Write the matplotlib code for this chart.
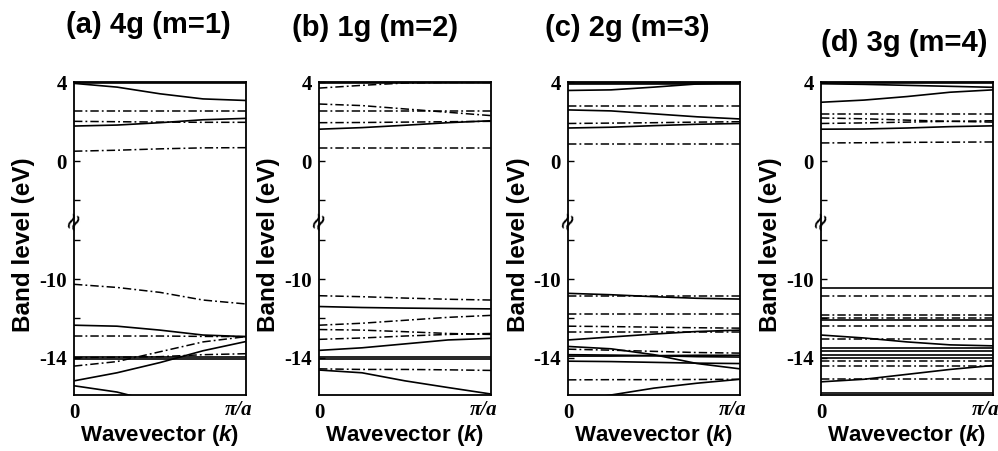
import numpy as np
import matplotlib
matplotlib.use("Agg")
import matplotlib.pyplot as plt

plt.rcParams['mathtext.fontset'] = 'custom'
plt.rcParams['mathtext.it'] = 'Liberation Sans:italic:bold'
plt.rcParams['mathtext.rm'] = 'Liberation Sans:bold'

# k points as fraction of pi/a
k = [0.0, 0.25, 0.5, 0.75, 1.0]

titles = ["(a) 4g (m=1)", "(b) 1g (m=2)", "(c) 2g (m=3)", "(d) 3g (m=4)"]

# band energies (eV) at the k points, solid and dash-dot bands
a_solid = [
    [3.98, 3.98, 3.98, 3.98, 3.98],
    [3.95, 3.76, 3.42, 3.16, 3.08],
    [1.78, 1.83, 1.95, 2.1, 2.17],
    [-12.35, -12.4, -12.6, -12.85, -12.93],
    [-13.97, -13.97, -13.97, -13.97, -13.97],
    [-14.05, -14.05, -14.05, -14.05, -14.05],
    [-15.18, -14.77, -14.25, -13.65, -13.18],
    [-15.43, -15.75, -16.3, -16.8, -17.0],
]
a_dashed = [
    [2.55, 2.55, 2.55, 2.55, 2.55],
    [2.02, 2.0, 1.98, 1.97, 1.97],
    [0.5, 0.55, 0.62, 0.67, 0.68],
    [-10.27, -10.43, -10.68, -11.07, -11.27],
    [-12.9, -12.9, -12.9, -12.92, -12.93],
    [-14.43, -14.2, -13.7, -13.2, -12.93],
    [-14.0, -13.98, -13.95, -13.85, -13.8],
]

b_solid = [
    [3.98, 3.98, 3.98, 3.98, 3.98],
    [1.62, 1.7, 1.82, 1.95, 2.05],
    [-11.4, -11.45, -11.48, -11.5, -11.52],
    [-13.63, -13.5, -13.3, -13.1, -13.02],
    [-13.95, -13.95, -13.95, -13.95, -13.95],
    [-14.05, -14.05, -14.05, -14.05, -14.05],
    [-14.63, -14.77, -15.18, -15.52, -15.85],
]
b_dashed = [
    [3.71, 3.85, 3.97, 4.0, 4.0],
    [2.9, 2.82, 2.65, 2.48, 2.31],
    [2.56, 2.56, 2.56, 2.56, 2.56],
    [1.95, 1.96, 1.98, 2.0, 2.02],
    [0.68, 0.68, 0.68, 0.68, 0.68],
    [-10.85, -10.9, -10.97, -11.03, -11.07],
    [-12.35, -12.25, -12.1, -11.95, -11.85],
    [-12.57, -12.6, -12.68, -12.77, -12.82],
    [-13.07, -13.0, -12.9, -12.82, -12.77],
    [-14.57, -14.6, -14.6, -14.62, -14.65],
]

c_solid = [
    [3.98, 3.98, 3.98, 3.98, 3.98],
    [3.93, 3.93, 3.93, 3.93, 3.93],
    [3.59, 3.62, 3.76, 3.92, 4.0],
    [2.6, 2.55, 2.4, 2.25, 2.14],
    [1.68, 1.72, 1.8, 1.87, 1.91],
    [-10.73, -10.8, -10.9, -10.98, -11.02],
    [-13.1, -12.95, -12.8, -12.67, -12.6],
    [-13.43, -13.55, -13.85, -14.3, -14.57],
    [-13.85, -13.87, -13.9, -13.95, -13.97],
    [-13.92, -13.92, -13.9, -13.88, -13.88],
    [-14.18, -14.2, -14.24, -14.28, -14.3],
    [-16.2, -15.9, -15.55, -15.3, -15.1],
]
c_dashed = [
    [2.8, 2.8, 2.8, 2.8, 2.8],
    [1.91, 1.93, 1.95, 1.98, 2.0],
    [0.85, 0.85, 0.85, 0.85, 0.85],
    [-10.85, -10.85, -10.85, -10.85, -10.85],
    [-11.8, -11.8, -11.8, -11.8, -11.8],
    [-12.4, -12.42, -12.45, -12.48, -12.5],
    [-12.68, -12.68, -12.68, -12.68, -12.68],
    [-13.57, -13.62, -13.68, -13.74, -13.77],
    [-15.13, -15.12, -15.12, -15.11, -15.1],
]

d_solid = [
    [3.98, 3.98, 3.98, 3.98, 3.98],
    [3.93, 3.9, 3.85, 3.8, 3.75],
    [2.99, 3.1, 3.28, 3.5, 3.62],
    [1.62, 1.63, 1.68, 1.75, 1.79],
    [-10.48, -10.48, -10.48, -10.48, -10.48],
    [-12.1, -12.1, -12.1, -12.1, -12.1],
    [-12.85, -13.0, -13.2, -13.35, -13.4],
    [-13.52, -13.52, -13.52, -13.52, -13.52],
    [-13.68, -13.68, -13.68, -13.68, -13.68],
    [-13.85, -13.85, -13.85, -13.85, -13.85],
    [-14.02, -14.02, -14.02, -14.02, -14.02],
    [-15.23, -15.1, -14.85, -14.6, -14.4],
    [-15.8, -15.8, -15.8, -15.8, -15.8],
]
d_dashed = [
    [2.39, 2.39, 2.39, 2.39, 2.39],
    [2.19, 2.15, 2.08, 2.02, 1.98],
    [1.91, 1.94, 1.98, 2.02, 2.05],
    [0.92, 0.93, 0.95, 0.96, 0.97],
    [-10.85, -10.85, -10.85, -10.85, -10.85],
    [-11.85, -11.85, -11.85, -11.85, -11.85],
    [-12.0, -12.0, -12.0, -12.0, -12.0],
    [-12.4, -12.4, -12.4, -12.4, -12.4],
    [-13.07, -13.07, -13.07, -13.07, -13.07],
    [-14.18, -14.18, -14.18, -14.18, -14.18],
    [-14.43, -14.43, -14.43, -14.43, -14.43],
    [-15.07, -15.07, -15.07, -15.07, -15.07],
]

solids = [a_solid, b_solid, c_solid, d_solid]
dashes = [a_dashed, b_dashed, c_dashed, d_dashed]


def brk(e):
    # broken energy axis: skip 4 eV between 0 and -10
    e = np.asarray(e, dtype=float)
    return np.where(e > -3, e, e + 4)


W, H = 998, 451
fig = plt.figure(figsize=(W / 100, H / 100), dpi=100)

lefts = [74, 319, 568, 821]
title_x = [148, 375, 627, 904]
title_y = [25, 28, 28, 43]
ylab_x = [24, 268, 518, 770]
dashstyle = (0, (5.5, 2, 1.2, 2))

for i in range(4):
    ax = fig.add_axes([lefts[i] / W, 1 - 395 / H, 172 / W, (395 - 82) / H])
    for band in solids[i]:
        ax.plot(k, brk(band), color="black", lw=1.2, solid_capstyle="butt")
    for band in dashes[i]:
        ax.plot(k, brk(band), color="black", lw=1.1, linestyle=dashstyle)
    ax.set_xlim(0, 1)
    ax.set_ylim(-11.9, 4.02)
    ax.set_yticks([4, 0, -6, -10])
    ax.set_yticklabels(["4", "0", "-10", "-14"])
    ax.set_yticks([-2, -4, -8], minor=True)
    ax.set_xticks([0])
    ax.set_xticklabels(["0"])
    ax.tick_params(axis="y", which="both", direction="in", length=4, width=1,
                   pad=5, labelsize=15)
    ax.tick_params(axis="x", direction="in", length=0, pad=6, labelsize=15)
    for lab in ax.get_yticklabels() + ax.get_xticklabels():
        lab.set_fontfamily("Liberation Serif")
        lab.set_fontweight("bold")
    ax.text(1 + 6 / 172, -0.015, "π/a", transform=ax.transAxes, ha="right",
            va="top", fontsize=15, fontweight="bold", fontstyle="italic",
            fontfamily="Liberation Serif")
    for sp in ax.spines.values():
        sp.set_linewidth(1.3)
    # break mark on the left spine
    ax.text(0, -3, "≈", rotation=65, ha="center", va="center", fontsize=17,
            transform=ax.get_yaxis_transform(), clip_on=False,
            fontfamily="DejaVu Sans")
    ax.set_xlabel("Wavevector ($k$)", fontsize=16, fontweight="bold",
                  fontfamily="Liberation Sans", labelpad=0)
    fig.text(ylab_x[i] / W, 1 - 245 / H, "Band level (eV)", rotation=90,
             ha="center", va="center", fontsize=17.5, fontweight="bold",
             fontfamily="Liberation Sans")
    fig.text(title_x[i] / W, 1 - title_y[i] / H, titles[i], ha="center",
             va="center", fontsize=21, fontweight="bold",
             fontfamily="Liberation Sans")

fig.savefig("out.png", dpi=100)
